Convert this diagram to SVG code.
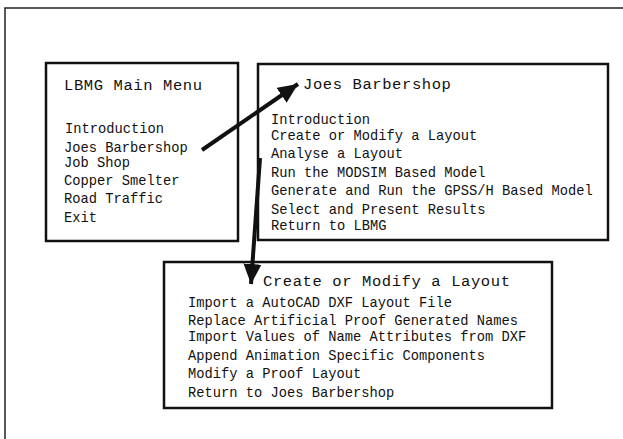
<svg xmlns="http://www.w3.org/2000/svg" width="623" height="439" viewBox="0 0 623 439">
<style>
.box{fill:#fff;stroke:#111;stroke-width:2.5}
.t{font-family:"Liberation Mono","Courier New",monospace;font-size:15.5px;letter-spacing:0.6px;fill:#111}
.i{font-family:"Liberation Mono","Courier New",monospace;font-size:13.75px;fill:#111}
.c{stroke:#111;stroke-width:4;fill:none}
</style>
<defs>
<marker id="ah" markerUnits="userSpaceOnUse" markerWidth="22" markerHeight="20" refX="20" refY="9" orient="auto">
<path d="M0,0 L20,9 L0,18 Z" fill="#111"/>
</marker>
</defs>
<rect width="623" height="439" fill="#fff"/>
<path d="M5,439 L5,8 L623,8" fill="none" stroke="#222" stroke-width="1.5"/>
<g id="main-menu">
<rect class="box" x="46" y="63" width="192" height="178"/>
<text class="t" x="64" y="90">LBMG Main Menu</text>
<text class="i" x="65" y="133">Introduction</text>
<text class="i" x="64" y="152">Joes Barbershop</text>
<text class="i" x="64" y="166.5">Job Shop</text>
<text class="i" x="64" y="185">Copper Smelter</text>
<text class="i" x="64" y="203">Road Traffic</text>
<text class="i" x="64" y="222">Exit</text>
</g>
<g id="joes-barbershop">
<rect class="box" x="258" y="64" width="350" height="176"/>
<text class="t" x="303" y="89">Joes Barbershop</text>
<text class="i" x="271" y="124">Introduction</text>
<text class="i" x="271" y="140">Create or Modify a Layout</text>
<text class="i" x="271" y="158">Analyse a Layout</text>
<text class="i" x="271" y="177">Run the MODSIM Based Model</text>
<text class="i" x="271" y="195">Generate and Run the GPSS/H Based Model</text>
<text class="i" x="271" y="214">Select and Present Results</text>
<text class="i" x="271" y="230">Return to LBMG</text>
</g>
<g id="create-modify-layout">
<rect class="box" x="164" y="262" width="388" height="146"/>
<text class="t" x="263" y="286">Create or Modify a Layout</text>
<text class="i" x="188" y="306.5">Import a AutoCAD DXF Layout File</text>
<text class="i" x="188" y="325">Replace Artificial Proof Generated Names</text>
<text class="i" x="188" y="341">Import Values of Name Attributes from DXF</text>
<text class="i" x="188" y="359.5">Append Animation Specific Components</text>
<text class="i" x="188" y="377.5">Modify a Proof Layout</text>
<text class="i" x="188" y="396.5">Return to Joes Barbershop</text>
</g>
<g id="connectors">
<line class="c" x1="202" y1="150" x2="298" y2="84" marker-end="url(#ah)"/>
<line class="c" x1="260" y1="158" x2="251" y2="284" marker-end="url(#ah)"/>
</g>
</svg>
